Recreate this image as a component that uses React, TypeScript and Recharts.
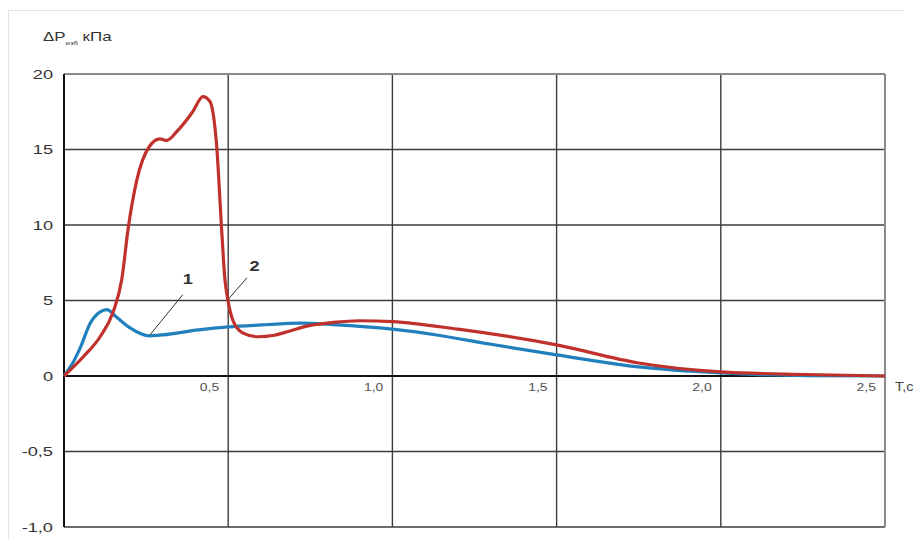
import {
  LineChart,
  Line,
  XAxis,
  YAxis,
  CartesianGrid,
  ReferenceLine,
  ReferenceDot,
} from 'recharts'

// curve 1 (blue): time, s and overpressure, kPa
const blueT = [0, 0.03, 0.05, 0.08, 0.11, 0.13, 0.16, 0.2, 0.26, 0.3, 0.41, 0.5, 0.6, 0.72, 0.82, 1.0, 1.14, 1.3, 1.5, 1.75, 2.0, 2.26, 2.5]
const blueP = [0, 1.0, 1.9, 3.5, 4.25, 4.4, 3.9, 3.2, 2.66, 2.72, 3.05, 3.25, 3.38, 3.5, 3.4, 3.1, 2.7, 2.1, 1.4, 0.6, 0.2, 0.02, 0]

// curve 2 (red)
const redT = [0, 0.058, 0.11, 0.149, 0.176, 0.195, 0.222, 0.26, 0.292, 0.313, 0.344, 0.392, 0.423, 0.444, 0.465, 0.48, 0.49, 0.499, 0.514, 0.544, 0.59, 0.64, 0.69, 0.75, 0.82, 0.9, 1.0, 1.2, 1.5, 1.75, 2.0, 2.26, 2.5]
const redP = [0, 1.26, 2.6, 4.2, 6.4, 9.7, 13, 15.2, 15.7, 15.6, 16.2, 17.5, 18.5, 18.2, 15.2, 9.7, 6.4, 5.05, 3.7, 2.86, 2.6, 2.7, 3.0, 3.35, 3.55, 3.66, 3.6, 3.1, 2.06, 0.86, 0.27, 0.1, 0]

// axis ticks (y axis is piecewise: 5 kPa per cell above zero, 0.5 below)
const yTicks = [-2, -1, 0, 1, 2, 3, 4]
const yTickLabels = ['-1,0', '-0,5', '0', '5', '10', '15', '20']
const xGrid = [0, 0.5, 1, 1.5, 2, 2.5]
const xTicks = [0.5, 1, 1.5, 2, 2.5]
const xTickLabels = ['0,5', '1,0', '1,5', '2,0', '2,5']

// maps kPa onto grid cells
const toGrid = (v: number) => (v >= 0 ? v / 5 : v / 0.5)

const blueData = blueT.map((t, i) => ({ t, p: blueP[i] }))
const redData = redT.map((t, i) => ({ t, p: redP[i] }))

const FONT = '"Liberation Sans", Arial, sans-serif'

function YTick({ x, y, payload }: any) {
  const idx = yTicks.indexOf(payload.value)
  return (
    <text
      transform={`translate(${x},${y}) scale(1.4,1)`}
      textAnchor="end"
      dy="0.36em"
      fontSize={13}
      fontFamily={FONT}
      fill="#333"
    >
      {yTickLabels[idx]}
    </text>
  )
}

function xLabel(label: string) {
  return ({ cx, cy }: any) => (
    <text
      transform={`translate(${cx - 9},${cy + 15}) scale(1.4,1)`}
      textAnchor="end"
      fontSize={10}
      fontFamily={FONT}
      fill="#555"
    >
      {label}
    </text>
  )
}

function curveLabel(label: string) {
  return ({ cx, cy }: any) => (
    <text
      transform={`translate(${cx},${cy}) scale(1.3,1)`}
      textAnchor="middle"
      dy="0.36em"
      fontSize={14}
      fontWeight={600}
      fontFamily={FONT}
      fill="#333"
    >
      {label}
    </text>
  )
}

export default function App() {
  return (
    <div style={{ position: 'relative', width: 919, height: 539, overflow: 'hidden' }}>
      <style>{'body{margin:0;overflow:hidden}'}</style>
      <div
        style={{
          position: 'absolute',
          top: 10,
          left: 8,
          width: 895,
          height: 540,
          borderTop: '1px solid #e2e2e2',
          borderLeft: '1px solid #e2e2e2',
        }}
      />
      <div
        style={{
          position: 'absolute',
          left: 43,
          top: 29,
          fontFamily: FONT,
          fontSize: 13,
          color: '#333',
          transform: 'scale(1.3,1)',
          transformOrigin: 'left top',
          whiteSpace: 'nowrap',
        }}
      >
        ΔP<sub style={{ fontSize: 6 }}>изб</sub> кПа
      </div>
      <LineChart
        width={919}
        height={539}
        margin={{ top: 74, right: 34, bottom: 12, left: 8 }}
        style={{ position: 'absolute', top: 0, left: 0 }}
      >
        <CartesianGrid stroke="#3c3c3c" strokeWidth={1.4} />
        <XAxis
          type="number"
          dataKey="t"
          domain={[0, 2.5]}
          ticks={xGrid}
          allowDuplicatedCategory={false}
          hide
        />
        <YAxis
          type="number"
          domain={[-2, 4]}
          ticks={yTicks}
          width={56}
          axisLine={false}
          tickLine={false}
          tickSize={6}
          tickMargin={5}
          tick={<YTick />}
          interval={0}
        />
        <ReferenceLine y={4} stroke="#8a8a8a" strokeWidth={2} />
        <ReferenceLine x={2.5} stroke="#8a8a8a" strokeWidth={2} />
        <ReferenceLine y={0} stroke="#111" strokeWidth={2} />
        <ReferenceLine x={0} stroke="#111" strokeWidth={2} />

        <Line
          data={blueData}
          dataKey={(d: any) => toGrid(d.p)}
          type="monotone"
          stroke="#1f80bd"
          strokeWidth={3.2}
          dot={false}
          isAnimationActive={false}
        />
        <Line
          data={redData}
          dataKey={(d: any) => toGrid(d.p)}
          type="monotone"
          stroke="#c0312b"
          strokeWidth={3.2}
          dot={false}
          isAnimationActive={false}
        />

        <ReferenceLine
          segment={[
            { x: 0.262, y: toGrid(2.73) },
            { x: 0.362, y: toGrid(5.39) },
          ]}
          stroke="#333"
          strokeWidth={1}
        />
        <ReferenceLine
          segment={[
            { x: 0.499, y: toGrid(5.05) },
            { x: 0.557, y: toGrid(6.5) },
          ]}
          stroke="#333"
          strokeWidth={1}
        />
        <ReferenceDot x={0.377} y={toGrid(6.45)} r={0} shape={curveLabel('1')} />
        <ReferenceDot x={0.58} y={toGrid(7.3)} r={0} shape={curveLabel('2')} />

        {xTicks.map((t, i) => (
          <ReferenceDot key={t} x={t} y={0} r={0} shape={xLabel(xTickLabels[i])} />
        ))}
        <ReferenceDot
          x={2.5}
          y={0}
          r={0}
          shape={({ cx, cy }: any) => (
            <text
              transform={`translate(${cx + 10},${cy + 15}) scale(1.2,1)`}
              fontSize={12}
              fontFamily={FONT}
              fill="#444"
            >
              T,c
            </text>
          )}
        />
      </LineChart>
    </div>
  )
}
